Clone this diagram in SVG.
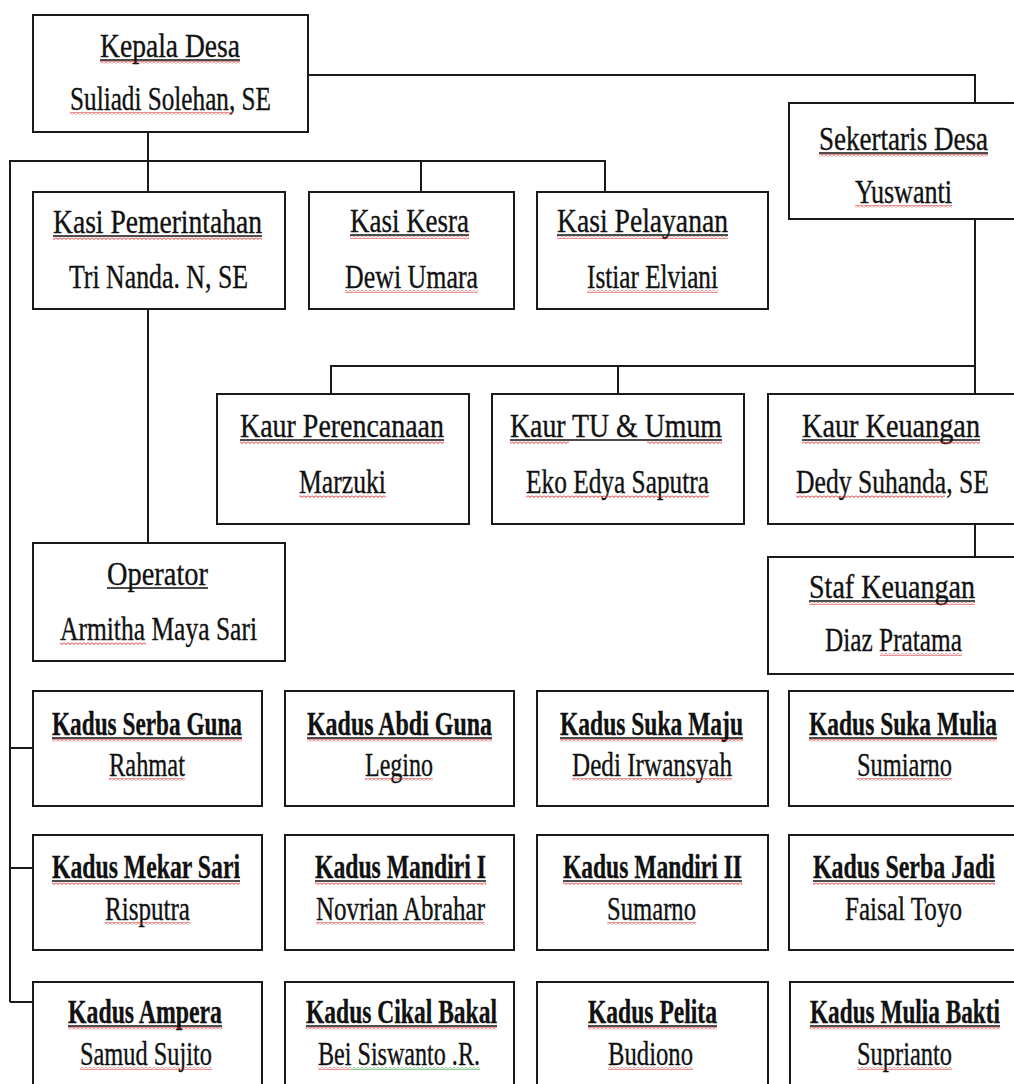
<svg xmlns="http://www.w3.org/2000/svg" width="1014" height="1084" viewBox="0 0 1014 1084">
<style>
.box{fill:#fff;stroke:#1a1a1a;stroke-width:2}
.t{font-family:"Liberation Serif","Times New Roman",serif;font-size:34px;fill:#111;stroke:#111;stroke-width:0.35}
.b{font-weight:bold}
.ul{stroke:#111;stroke-width:1.6}
.sq{fill:url(#wv)}
.sg{fill:url(#wg)}
.conn path{fill:none;stroke:#1a1a1a;stroke-width:2}
</style>
<defs>
<pattern id="wv" width="4" height="3" patternUnits="userSpaceOnUse"><path d="M0,0.5 L2,2.5 L4,0.5" fill="none" stroke="#e02020" stroke-width="1"/></pattern>
<pattern id="wg" width="4" height="3" patternUnits="userSpaceOnUse"><path d="M0,0.5 L2,2.5 L4,0.5" fill="none" stroke="#1a9a1a" stroke-width="1"/></pattern>
</defs>
<rect width="1014" height="1084" fill="#fff"/>
<g id="connectors" class="conn">
<path d="M308,75 H975 V103"/>
<path d="M148,132 V192"/>
<path d="M10,1002 V161 H605 V192"/>
<path d="M421,161 V192"/>
<path d="M10,748 H33"/>
<path d="M10,868 H33"/>
<path d="M10,1002 H33"/>
<path d="M148,309 V543"/>
<path d="M975,219 V394"/>
<path d="M331,394 V366 H975"/>
<path d="M618,366 V394"/>
<path d="M975,524 V557"/>
</g>
<g id="kepala-desa"><rect class="box" x="33" y="15" width="275" height="117"/>
<text class="t" x="100" y="57" textLength="140" lengthAdjust="spacingAndGlyphs">Kepala Desa</text><line class="ul" x1="100" y1="60" x2="240" y2="60"/><rect class="sq" x="100" y="61" width="140" height="3"/>
<text class="t" x="70" y="110" textLength="201" lengthAdjust="spacingAndGlyphs">Suliadi Solehan, SE</text><rect class="sq" x="70" y="112" width="163" height="3"/></g>
<g id="sekertaris-desa"><rect class="box" x="789" y="103" width="226" height="116"/>
<text class="t" x="819" y="150" textLength="169" lengthAdjust="spacingAndGlyphs">Sekertaris Desa</text><line class="ul" x1="819" y1="153" x2="988" y2="153"/><rect class="sq" x="819" y="154" width="169" height="3"/>
<text class="t" x="855" y="203" textLength="97" lengthAdjust="spacingAndGlyphs">Yuswanti</text><rect class="sq" x="855" y="205" width="97" height="3"/></g>
<g id="kasi-pemerintahan"><rect class="box" x="33" y="192" width="252" height="117"/>
<text class="t" x="53" y="233" textLength="209" lengthAdjust="spacingAndGlyphs">Kasi Pemerintahan</text><line class="ul" x1="53" y1="236" x2="262" y2="236"/><rect class="sq" x="53" y="237" width="209" height="3"/>
<text class="t" x="69" y="288" textLength="179" lengthAdjust="spacingAndGlyphs">Tri Nanda. N, SE</text></g>
<g id="kasi-kesra"><rect class="box" x="309" y="192" width="205" height="117"/>
<text class="t" x="350" y="232" textLength="119" lengthAdjust="spacingAndGlyphs">Kasi Kesra</text><line class="ul" x1="350" y1="235" x2="469" y2="235"/><rect class="sq" x="350" y="236" width="119" height="3"/>
<text class="t" x="345" y="288" textLength="133" lengthAdjust="spacingAndGlyphs">Dewi Umara</text><rect class="sq" x="345" y="290" width="133" height="3"/></g>
<g id="kasi-pelayanan"><rect class="box" x="537" y="192" width="231" height="117"/>
<text class="t" x="557" y="232" textLength="171" lengthAdjust="spacingAndGlyphs">Kasi Pelayanan</text><line class="ul" x1="557" y1="235" x2="728" y2="235"/><rect class="sq" x="557" y="236" width="171" height="3"/>
<text class="t" x="587" y="288" textLength="131" lengthAdjust="spacingAndGlyphs">Istiar Elviani</text><rect class="sq" x="587" y="290" width="131" height="3"/></g>
<g id="kaur-perencanaan"><rect class="box" x="217" y="394" width="252" height="130"/>
<text class="t" x="240" y="437" textLength="204" lengthAdjust="spacingAndGlyphs">Kaur Perencanaan</text><line class="ul" x1="240" y1="440" x2="444" y2="440"/><rect class="sq" x="240" y="441" width="204" height="3"/>
<text class="t" x="299" y="493" textLength="87" lengthAdjust="spacingAndGlyphs">Marzuki</text><rect class="sq" x="299" y="495" width="87" height="3"/></g>
<g id="kaur-tu-umum"><rect class="box" x="492" y="394" width="252" height="130"/>
<text class="t" x="510" y="437" textLength="212" lengthAdjust="spacingAndGlyphs">Kaur TU &amp; Umum</text><line class="ul" x1="510" y1="440" x2="722" y2="440"/><rect class="sq" x="510" y="441" width="59" height="3"/><rect class="sq" x="647" y="441" width="75" height="3"/>
<text class="t" x="526" y="493" textLength="183" lengthAdjust="spacingAndGlyphs">Eko Edya Saputra</text><rect class="sq" x="526" y="495" width="183" height="3"/></g>
<g id="kaur-keuangan"><rect class="box" x="768" y="394" width="247" height="130"/>
<text class="t" x="802" y="437" textLength="178" lengthAdjust="spacingAndGlyphs">Kaur Keuangan</text><line class="ul" x1="802" y1="440" x2="980" y2="440"/><rect class="sq" x="802" y="441" width="178" height="3"/>
<text class="t" x="796" y="493" textLength="193" lengthAdjust="spacingAndGlyphs">Dedy Suhanda, SE</text><rect class="sq" x="796" y="495" width="149" height="3"/></g>
<g id="operator"><rect class="box" x="33" y="543" width="252" height="118"/>
<text class="t" x="107" y="585" textLength="101" lengthAdjust="spacingAndGlyphs">Operator</text><line class="ul" x1="107" y1="588" x2="208" y2="588"/>
<text class="t" x="60" y="640" textLength="197" lengthAdjust="spacingAndGlyphs">Armitha Maya Sari</text><rect class="sq" x="60" y="642" width="86" height="3"/></g>
<g id="staf-keuangan"><rect class="box" x="768" y="557" width="247" height="117"/>
<text class="t" x="809" y="598" textLength="166" lengthAdjust="spacingAndGlyphs">Staf Keuangan</text><line class="ul" x1="809" y1="601" x2="975" y2="601"/><rect class="sq" x="809" y="602" width="166" height="3"/>
<text class="t" x="825" y="651" textLength="137" lengthAdjust="spacingAndGlyphs">Diaz Pratama</text><rect class="sq" x="880" y="653" width="82" height="3"/></g>
<g id="kadus-serba-guna"><rect class="box" x="33" y="691" width="229" height="115"/>
<text class="t b" x="52" y="735" textLength="190" lengthAdjust="spacingAndGlyphs">Kadus Serba Guna</text><line class="ul" x1="52" y1="738" x2="242" y2="738"/><rect class="sq" x="52" y="739" width="190" height="3"/>
<text class="t" x="109" y="776" textLength="76" lengthAdjust="spacingAndGlyphs">Rahmat</text><rect class="sq" x="109" y="778" width="76" height="3"/></g>
<g id="kadus-abdi-guna"><rect class="box" x="285" y="691" width="229" height="115"/>
<text class="t b" x="307" y="735" textLength="185" lengthAdjust="spacingAndGlyphs">Kadus Abdi Guna</text><line class="ul" x1="307" y1="738" x2="492" y2="738"/><rect class="sq" x="307" y="739" width="185" height="3"/>
<text class="t" x="365" y="776" textLength="68" lengthAdjust="spacingAndGlyphs">Legino</text><rect class="sq" x="365" y="778" width="68" height="3"/></g>
<g id="kadus-suka-maju"><rect class="box" x="537" y="691" width="231" height="115"/>
<text class="t b" x="560" y="735" textLength="183" lengthAdjust="spacingAndGlyphs">Kadus Suka Maju</text><line class="ul" x1="560" y1="738" x2="743" y2="738"/><rect class="sq" x="560" y="739" width="183" height="3"/>
<text class="t" x="572" y="776" textLength="160" lengthAdjust="spacingAndGlyphs">Dedi Irwansyah</text><rect class="sq" x="572" y="778" width="160" height="3"/></g>
<g id="kadus-suka-mulia"><rect class="box" x="789" y="691" width="226" height="115"/>
<text class="t b" x="809" y="735" textLength="188" lengthAdjust="spacingAndGlyphs">Kadus Suka Mulia</text><line class="ul" x1="809" y1="738" x2="997" y2="738"/><rect class="sq" x="809" y="739" width="188" height="3"/>
<text class="t" x="857" y="776" textLength="95" lengthAdjust="spacingAndGlyphs">Sumiarno</text><rect class="sq" x="857" y="778" width="95" height="3"/></g>
<g id="kadus-mekar-sari"><rect class="box" x="33" y="835" width="229" height="115"/>
<text class="t b" x="52" y="878" textLength="188" lengthAdjust="spacingAndGlyphs">Kadus Mekar Sari</text><line class="ul" x1="52" y1="881" x2="240" y2="881"/><rect class="sq" x="52" y="882" width="188" height="3"/>
<text class="t" x="105" y="920" textLength="85" lengthAdjust="spacingAndGlyphs">Risputra</text><rect class="sq" x="105" y="922" width="85" height="3"/></g>
<g id="kadus-mandiri-i"><rect class="box" x="285" y="835" width="229" height="115"/>
<text class="t b" x="315" y="878" textLength="171" lengthAdjust="spacingAndGlyphs">Kadus Mandiri I</text><line class="ul" x1="315" y1="881" x2="486" y2="881"/><rect class="sq" x="315" y="882" width="171" height="3"/>
<text class="t" x="316" y="920" textLength="169" lengthAdjust="spacingAndGlyphs">Novrian Abrahar</text><rect class="sq" x="316" y="922" width="169" height="3"/></g>
<g id="kadus-mandiri-ii"><rect class="box" x="537" y="835" width="231" height="115"/>
<text class="t b" x="563" y="878" textLength="179" lengthAdjust="spacingAndGlyphs">Kadus Mandiri II</text><line class="ul" x1="563" y1="881" x2="742" y2="881"/><rect class="sq" x="563" y="882" width="179" height="3"/>
<text class="t" x="607" y="920" textLength="89" lengthAdjust="spacingAndGlyphs">Sumarno</text><rect class="sq" x="607" y="922" width="89" height="3"/></g>
<g id="kadus-serba-jadi"><rect class="box" x="789" y="835" width="226" height="115"/>
<text class="t b" x="813" y="878" textLength="182" lengthAdjust="spacingAndGlyphs">Kadus Serba Jadi</text><line class="ul" x1="813" y1="881" x2="995" y2="881"/><rect class="sq" x="813" y="882" width="182" height="3"/>
<text class="t" x="845" y="920" textLength="117" lengthAdjust="spacingAndGlyphs">Faisal Toyo</text></g>
<g id="kadus-ampera"><rect class="box" x="33" y="982" width="229" height="115"/>
<text class="t b" x="68" y="1023" textLength="154" lengthAdjust="spacingAndGlyphs">Kadus Ampera</text><line class="ul" x1="68" y1="1026" x2="222" y2="1026"/><rect class="sq" x="68" y="1027" width="154" height="3"/>
<text class="t" x="80" y="1065" textLength="132" lengthAdjust="spacingAndGlyphs">Samud Sujito</text><rect class="sq" x="80" y="1067" width="132" height="3"/></g>
<g id="kadus-cikal-bakal"><rect class="box" x="285" y="982" width="229" height="115"/>
<text class="t b" x="306" y="1023" textLength="191" lengthAdjust="spacingAndGlyphs">Kadus Cikal Bakal</text><line class="ul" x1="306" y1="1026" x2="497" y2="1026"/><rect class="sq" x="306" y="1027" width="191" height="3"/>
<text class="t" x="318" y="1065" textLength="162" lengthAdjust="spacingAndGlyphs">Bei Siswanto .R.</text><rect class="sq" x="318" y="1067" width="32" height="3"/><rect class="sg" x="350" y="1067" width="130" height="3"/></g>
<g id="kadus-pelita"><rect class="box" x="537" y="982" width="231" height="115"/>
<text class="t b" x="588" y="1023" textLength="129" lengthAdjust="spacingAndGlyphs">Kadus Pelita</text><line class="ul" x1="588" y1="1026" x2="717" y2="1026"/><rect class="sq" x="588" y="1027" width="129" height="3"/>
<text class="t" x="608" y="1065" textLength="85" lengthAdjust="spacingAndGlyphs">Budiono</text><rect class="sq" x="608" y="1067" width="85" height="3"/></g>
<g id="kadus-mulia-bakti"><rect class="box" x="790" y="982" width="225" height="115"/>
<text class="t b" x="810" y="1023" textLength="190" lengthAdjust="spacingAndGlyphs">Kadus Mulia Bakti</text><line class="ul" x1="810" y1="1026" x2="1000" y2="1026"/><rect class="sq" x="810" y="1027" width="190" height="3"/>
<text class="t" x="857" y="1065" textLength="95" lengthAdjust="spacingAndGlyphs">Suprianto</text><rect class="sq" x="857" y="1067" width="95" height="3"/></g>
</svg>
